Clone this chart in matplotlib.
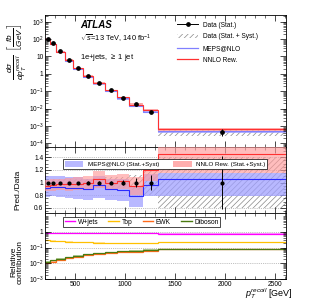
import numpy as np
import matplotlib
matplotlib.use("Agg")
import matplotlib.pyplot as plt
from matplotlib.patches import Patch
from matplotlib.lines import Line2D
from matplotlib.ticker import FixedLocator, LogLocator, NullFormatter, AutoMinorLocator

# ---------------- data ----------------
edges = [200, 250, 305, 400, 483, 577, 678, 797, 917, 1043, 1183, 1333, 2610]
data = [105, 56, 19.5, 6.3, 2.1, 0.73, 0.29, 0.11, 0.043, 0.018, 0.0067, 4.6e-4]
data_stat = [0.01, 0.01, 0.01, 0.012, 0.015, 0.02, 0.025, 0.03, 0.04, 0.07, 0.12, 0.42]
data_tot = [0.05, 0.05, 0.05, 0.055, 0.06, 0.06, 0.07, 0.08, 0.09, 0.12, 0.2, 0.4]
meps_ratio = [0.92, 0.93, 0.93, 0.92, 0.91, 0.90, 0.96, 0.89, 0.88, 0.78, 0.96, 1.06]
meps_up = [1.10, 1.10, 1.10, 1.08, 1.08, 1.06, 1.10, 1.06, 1.05, 0.95, 1.14, 1.15]
meps_dn = [0.77, 0.78, 0.77, 0.76, 0.74, 0.72, 0.76, 0.72, 0.71, 0.62, 0.78, 0.78]
nnlo_ratio = [0.95, 0.96, 0.97, 0.97, 0.98, 1.00, 1.05, 1.00, 1.02, 0.94, 1.20, 1.45]
nnlo_up = [1.04, 1.05, 1.06, 1.07, 1.08, 1.10, 1.18, 1.12, 1.14, 1.08, 1.31, 1.62]
nnlo_dn = [0.86, 0.87, 0.88, 0.87, 0.88, 0.89, 0.92, 0.88, 0.90, 0.80, 1.02, 1.15]
frac_w = [0.79, 0.79, 0.79, 0.78, 0.78, 0.78, 0.78, 0.78, 0.78, 0.78, 0.78, 0.72]
frac_top = [0.29, 0.27, 0.25, 0.23, 0.22, 0.21, 0.20, 0.19, 0.19, 0.18, 0.18, 0.21]
frac_ewk = [0.011, 0.013, 0.017, 0.022, 0.027, 0.032, 0.038, 0.044, 0.050, 0.055, 0.062, 0.078]
frac_vv = [0.013, 0.016, 0.020, 0.025, 0.031, 0.037, 0.043, 0.050, 0.057, 0.064, 0.072, 0.080]

edges_a = np.array(edges, float)
centers = 0.5 * (edges_a[1:] + edges_a[:-1])
data_a = np.array(data)

plt.rcParams['font.family'] = ['Liberation Sans', 'DejaVu Sans']
plt.rcParams['mathtext.fontset'] = 'custom'
plt.rcParams['mathtext.rm'] = 'Liberation Sans'
plt.rcParams['mathtext.it'] = 'Liberation Sans:italic'
plt.rcParams['hatch.linewidth'] = 0.5

fs = 4.5
fig = plt.figure(figsize=(3.15, 3.02), dpi=100)
L, W = 0.143, 0.765
ax1 = fig.add_axes([L, 0.513, W, 0.437])
ax2 = fig.add_axes([L, 0.295, W, 0.218])
ax3 = fig.add_axes([L, 0.075, W, 0.220])

blue_band = '#a0a0ff'
red_band = '#ff9a9a'
blue_line = '#2a2aff'
red_line = '#ff3030'
hatch_col = '#888888'

for ax in (ax1, ax2, ax3):
    ax.set_xlim(200, 2610)
    ax.tick_params(which='both', direction='in', top=True, right=True, labelsize=fs + 0.3, pad=1.2)
    ax.tick_params(which='major', length=4, width=0.5)
    ax.tick_params(which='minor', length=2, width=0.4)
    ax.xaxis.set_major_locator(FixedLocator([500, 1000, 1500, 2000, 2500]))
    ax.xaxis.set_minor_locator(AutoMinorLocator(5))
    for s in ax.spines.values():
        s.set_linewidth(0.6)

# ---------- top panel ----------
ax1.set_yscale('log')
ax1.set_ylim(6e-5, 2.4e3)
ax1.stairs(data_a * (1 + np.array(data_tot)), edges_a, baseline=data_a * (1 - np.array(data_tot)),
           fill=True, facecolor='none', edgecolor=hatch_col, hatch='//////', linewidth=0)
ax1.stairs(data_a * np.array(meps_up) * 0.97, edges_a, baseline=data_a * np.array(meps_dn) * 1.08,
           fill=True, color=blue_band, alpha=0.8, linewidth=0)
ax1.stairs(data_a * np.array(meps_ratio), edges_a, color='#8080ff', linewidth=0.8, baseline=None)
ax1.stairs(data_a * np.array(nnlo_up), edges_a, baseline=data_a * np.array(nnlo_dn),
           fill=True, color=red_band, alpha=0.8, linewidth=0)
ax1.stairs(data_a * np.array(nnlo_ratio), edges_a, color=red_line, linewidth=0.8, baseline=None)
ax1.errorbar(centers, data_a, yerr=data_a * np.array(data_stat), fmt='o', color='black',
             markersize=2.4, elinewidth=0.7, capsize=0)
ax1.yaxis.set_major_locator(LogLocator(base=10, numticks=20))
ax1.yaxis.set_minor_locator(LogLocator(base=10, subs=np.arange(2, 10), numticks=20))
ax1.yaxis.set_minor_formatter(NullFormatter())


def logfmt(v, pos=None):
    e = int(round(np.log10(v)))
    if e == 0:
        return '1'
    if e == 1:
        return '10'
    return r'$10^{%d}$' % e


ax1.yaxis.set_major_formatter(plt.FuncFormatter(logfmt))
ax1.tick_params(labelbottom=False)
fig.text(17 / 315, 1 - 52 / 302, r'$\frac{d\sigma}{dp_{T}^{recoil}}\ \left[\frac{fb}{GeV}\right]$',
         fontsize=8.5, rotation=90, ha='center', va='center')

ax1.text(0.145, 0.905, 'ATLAS', transform=ax1.transAxes, fontsize=7, fontweight='bold', style='italic')
ax1.text(0.145, 0.80, r'$\sqrt{s}$=13 TeV, 140 fb$^{-1}$', transform=ax1.transAxes, fontsize=5.3)
ax1.text(0.145, 0.665, r'1e+jets, $\geq$ 1 jet', transform=ax1.transAxes, fontsize=5.5)

h_data = Line2D([], [], color='black', marker='o', markersize=2.4, linewidth=0.7)
h_hatch = Patch(facecolor='none', edgecolor=hatch_col, hatch='//////', linewidth=0)
h_meps = Line2D([], [], color='#8080ff', linewidth=0.9)
h_nnlo = Line2D([], [], color=red_line, linewidth=0.9)
ax1.legend([h_data, h_hatch, h_meps, h_nnlo],
           ['Data (Stat.)', 'Data (Stat. + Syst.)', 'MEPS@NLO', 'NNLO Rew.'],
           loc='upper left', bbox_to_anchor=(0.53, 0.985), frameon=False, fontsize=fs + 0.2,
           handlelength=3.2, handletextpad=0.7, labelspacing=0.72, borderpad=0.2)

# ---------- ratio panel ----------
ax2.set_ylim(0.52, 1.56)
for g in (0.6, 0.8, 1.2, 1.4):
    ax2.axhline(g, color='#999999', linestyle=(0, (1.2, 1.5)), linewidth=0.5, zorder=0.5)
ax2.stairs(1 + np.array(data_tot), edges_a, baseline=1 - np.array(data_tot),
           fill=True, facecolor='none', edgecolor=hatch_col, hatch='//////', linewidth=0, zorder=1)
ax2.stairs(meps_up, edges_a, baseline=meps_dn, fill=True, color=blue_band, alpha=0.75, linewidth=0, zorder=2)
ax2.stairs(nnlo_up, edges_a, baseline=nnlo_dn, fill=True, color=red_band, alpha=0.65, linewidth=0, zorder=3)
ax2.stairs(meps_ratio, edges_a, color=blue_line, linewidth=0.8, baseline=None, zorder=4)
ax2.stairs(nnlo_ratio, edges_a, color=red_line, linewidth=0.8, baseline=None, zorder=4)
ax2.errorbar(centers, np.ones(len(centers)), yerr=data_stat, fmt='o', color='black',
             markersize=2.0, elinewidth=0.7, capsize=0, zorder=5)
ax2.yaxis.set_major_locator(FixedLocator([0.6, 0.8, 1.0, 1.2, 1.4]))
ax2.yaxis.set_major_formatter(plt.FuncFormatter(lambda v, p: '%g' % v))
ax2.yaxis.set_minor_locator(AutoMinorLocator(4))
ax2.tick_params(labelbottom=False)
fig.text(18 / 315, 1 - 190 / 302, 'Pred./Data', fontsize=6, rotation=90, ha='center', va='center')
leg2 = ax2.legend([Patch(facecolor=blue_band, alpha=0.75, linewidth=0),
                   Patch(facecolor=red_band, alpha=0.8, linewidth=0)],
                  ['MEPS@NLO (Stat.+Syst)', 'NNLO Rew. (Stat.+Syst.)'],
                  loc='upper left', bbox_to_anchor=(0.06, 0.87), ncol=2, fontsize=fs,
                  frameon=True, fancybox=False, edgecolor='black', framealpha=1,
                  handlelength=3.0, handleheight=1.3, columnspacing=2.2, borderpad=0.3,
                  handletextpad=0.7)
leg2.get_frame().set_linewidth(0.5)
leg2.set_zorder(10)

# ---------- relative contribution panel ----------
ax3.set_yscale('log')
ax3.set_ylim(1e-3, 15)
for g in (1, 0.1, 0.01):
    ax3.axhline(g, color='#999999', linestyle=(0, (1.2, 1.5)), linewidth=0.5, zorder=0.5)
cols = {'W+jets': '#ff00ff', 'Top': '#ffc000', 'EWK': '#ff6a1a', 'Diboson': '#4a7a10'}
bands = {'W+jets': '#ff80ff', 'Top': '#ffe090', 'EWK': '#ffb080', 'Diboson': '#a0c080'}
for name, vals in (('W+jets', frac_w), ('Top', frac_top), ('EWK', frac_ewk), ('Diboson', frac_vv)):
    v = np.array(vals)
    ax3.stairs(v * 1.08, edges_a, baseline=v * 0.92, fill=True, color=bands[name], alpha=0.8, linewidth=0)
    ax3.stairs(v, edges_a, color=cols[name], linewidth=0.9, baseline=None)
ax3.yaxis.set_major_locator(FixedLocator([1e-3, 1e-2, 1e-1, 1]))
ax3.yaxis.set_minor_locator(LogLocator(base=10, subs=np.arange(2, 10), numticks=20))
ax3.yaxis.set_minor_formatter(NullFormatter())
ax3.yaxis.set_major_formatter(plt.FuncFormatter(logfmt))
ax3.xaxis.set_major_formatter(plt.FuncFormatter(lambda v, p: '%d' % v))
fig.text(17 / 315, 1 - 262 / 302, 'Relative\ncontribution', fontsize=6, rotation=90,
         ha='center', va='center', linespacing=0.95, multialignment='center')
leg3 = ax3.legend([Line2D([], [], color=cols[k], linewidth=1.0) for k in cols], list(cols.keys()),
                  loc='upper left', bbox_to_anchor=(0.06, 0.99), ncol=4, fontsize=fs + 0.3,
                  frameon=True, fancybox=False, edgecolor='black', framealpha=1,
                  handlelength=1.6, columnspacing=1.5, borderpad=0.25, handletextpad=0.4)
leg3.get_frame().set_linewidth(0.5)
fig.text(293 / 315, 1 - 294 / 302, r'$p_{T}^{recoil}$ [GeV]', fontsize=6.5, ha='right', va='center')

fig.savefig('out.png', dpi=100)
